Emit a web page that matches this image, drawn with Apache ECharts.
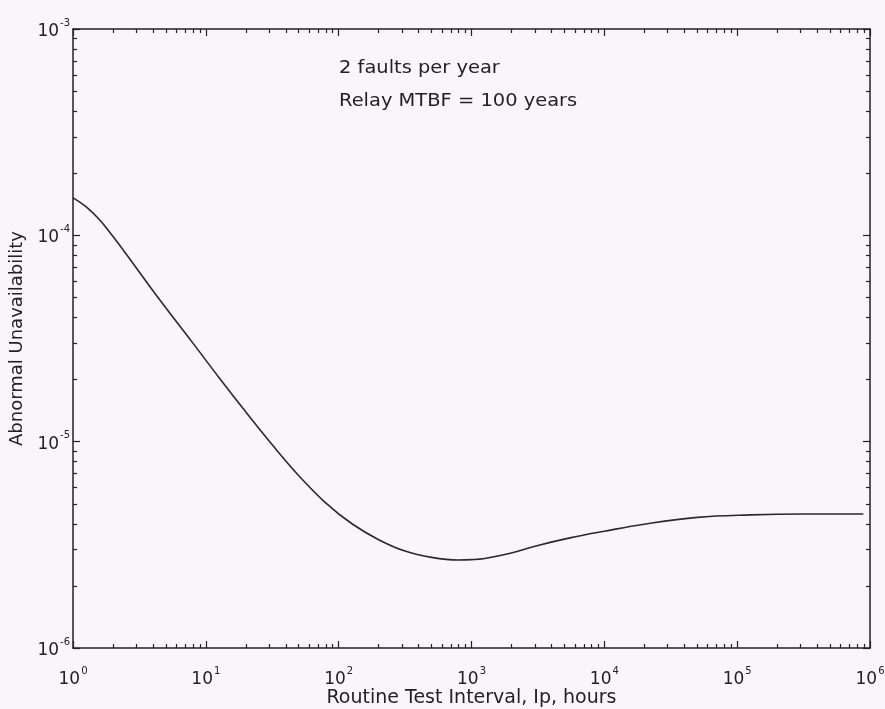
<!DOCTYPE html>
<html>
<head>
<meta charset="utf-8">
<script src="https://cdn.jsdelivr.net/npm/echarts@6/dist/echarts.min.js"></script>
<style>
html,body{margin:0;padding:0;background:#f9f6f9;}
#chart{width:885px;height:709px;}
</style>
</head>
<body>
<div id="chart"></div>
<script>
// Data
const testInterval = [1, 1.259, 1.585, 1.995, 2.512, 4.467, 7.943, 12.59, 19.95, 31.62, 50.12, 79.43, 125.9, 200, 316, 501, 794, 1000, 1259, 1995, 3162, 5623, 10000, 19953, 50119, 125893, 316228, 891251];
const unavailability = [1.52e-4, 1.374e-4, 1.189e-4, 9.886e-5, 8.128e-5, 4.898e-5, 3.020e-5, 2.042e-5, 1.396e-5, 9.66e-6, 6.84e-6, 5.07e-6, 4.00e-6, 3.35e-6, 2.95e-6, 2.75e-6, 2.67e-6, 2.68e-6, 2.716e-6, 2.884e-6, 3.141e-6, 3.428e-6, 3.681e-6, 3.981e-6, 4.295e-6, 4.416e-6, 4.46e-6, 4.46e-6];
const xMajorTicks = [1, 10, 100, 1000, 10000, 100000, 1000000];
const yMajorTicks = [1e-6, 1e-5, 1e-4, 1e-3];
const annotationLines = ['2 faults per year', 'Relay MTBF = 100 years'];
const xAxisTitle = 'Routine Test Interval, Ip, hours';
const yAxisTitle = 'Abnormal Unavailability';

function minorTicks(fromExp, toExp) {
  const out = [];
  for (let e = fromExp; e < toExp; e++) {
    for (let k = 2; k <= 9; k++) out.push(k * Math.pow(10, e));
  }
  return out;
}
const xMinorTicks = minorTicks(0, 6);
const yMinorTicks = minorTicks(-6, -3);

const FONT = 'DejaVu Sans';
const ink = '#222';
const rich = {
  b: { fontFamily: FONT, fontSize: 17, color: ink, lineHeight: 22, verticalAlign: 'bottom' },
  e: { fontFamily: FONT, fontSize: 10, color: ink, lineHeight: 22, verticalAlign: 'top', padding: [0, 0, 0, 1] }
};
function powLabel(v) {
  const ex = Math.round(Math.log10(v));
  return '{b|10}{e|' + ex + '}';
}

function mkAxis(kind, pos, isMajor, ticks, extra) {
  const base = {
    type: 'log', logBase: 10, position: pos,
    min: kind === 'x' ? 1 : 1e-6, max: kind === 'x' ? 1e6 : 1e-3,
    axisLine: { show: isMajor, onZero: false, lineStyle: { color: ink, width: 1.5 } },
    axisTick: { show: true, inside: true, length: isMajor ? 7 : 4, customValues: ticks, lineStyle: { color: ink, width: 1.2 } },
    axisLabel: { show: false },
    splitLine: { show: false },
    minorTick: { show: false },
    z: 5
  };
  return Object.assign(base, extra || {});
}

const chart = echarts.init(document.getElementById('chart'), null, { renderer: 'canvas' });
chart.setOption({
  backgroundColor: '#f9f6f9',
  animation: false,
  grid: { left: 73, right: 15, top: 29, bottom: 61, containLabel: false, outerBoundsMode: 'none' },
  xAxis: [
    mkAxis('x', 'bottom', true, xMajorTicks, {
      name: xAxisTitle, nameLocation: 'middle', nameGap: 41, nameMoveOverlap: false,
      nameTextStyle: { fontFamily: FONT, fontSize: 19, color: ink },
      axisLabel: { show: true, customValues: xMajorTicks, formatter: powLabel, rich: rich, margin: 18 }
    }),
    mkAxis('x', 'bottom', false, xMinorTicks),
    mkAxis('x', 'top', true, xMajorTicks),
    mkAxis('x', 'top', false, xMinorTicks)
  ],
  yAxis: [
    mkAxis('y', 'left', true, yMajorTicks, {
      name: yAxisTitle, nameLocation: 'middle', nameGap: 47, nameRotate: 90, nameMoveOverlap: false,
      nameTextStyle: { fontFamily: FONT, fontSize: 18, color: ink },
      axisLabel: { show: true, customValues: yMajorTicks, formatter: powLabel, rich: rich, margin: 3 }
    }),
    mkAxis('y', 'left', false, yMinorTicks),
    mkAxis('y', 'right', true, yMajorTicks),
    mkAxis('y', 'right', false, yMinorTicks)
  ],
  graphic: annotationLines.map((t, i) => ({
    type: 'text', left: 339, top: 59 + i * 33, scaleX: 1.08,
    style: { text: t, fontFamily: FONT, fontSize: 18, fill: ink }
  })),
  series: [{
    type: 'line', xAxisIndex: 0, yAxisIndex: 0,
    data: testInterval.map((x, i) => [x, unavailability[i]]),
    smooth: 0.4, showSymbol: false, symbol: 'none',
    lineStyle: { color: '#2a2a2a', width: 1.6 }
  }]
});
</script>
</body>
</html>
